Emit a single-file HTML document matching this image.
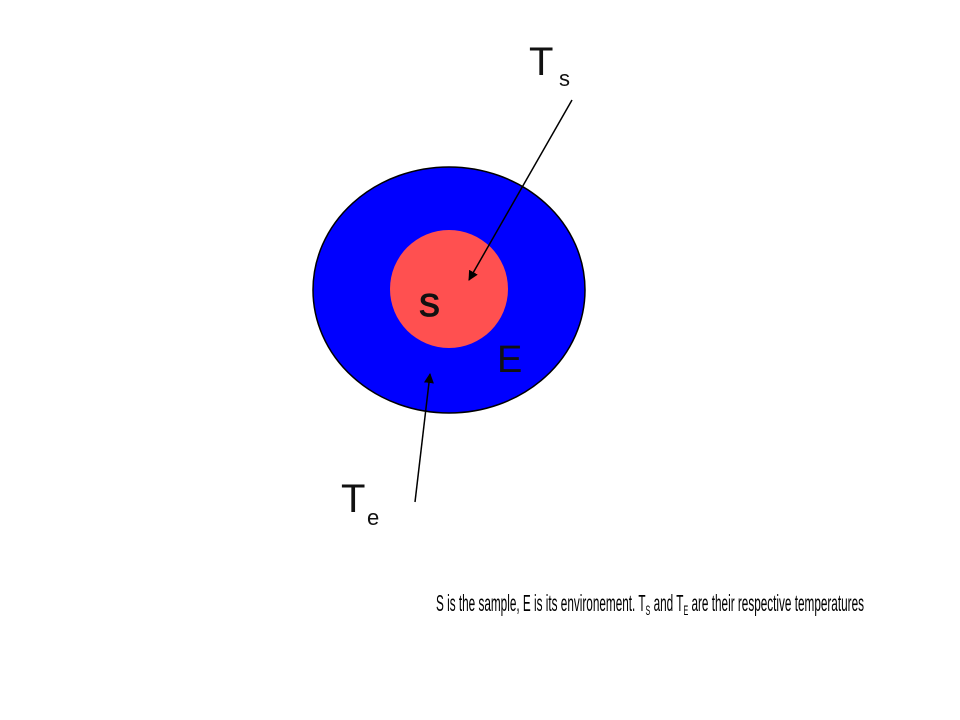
<!DOCTYPE html>
<html><head><style>
body{margin:0;background:#fff;}
</style></head><body>
<svg width="960" height="720" xmlns="http://www.w3.org/2000/svg" style="display:block">
<defs><marker id="a" markerWidth="10" markerHeight="12" refX="9" refY="6" orient="auto" markerUnits="userSpaceOnUse"><path d="M0,1 L10,6 L0,11 z" fill="#000"/></marker></defs>
<ellipse cx="449" cy="290" rx="136" ry="123" fill="#0000ff" stroke="#000" stroke-width="1.5"/>
<circle cx="449" cy="289" r="59" fill="#ff5050"/>
<text x="419" y="316" font-family="Liberation Sans, sans-serif" font-size="42" fill="#111" stroke="#111" stroke-width="0.8">s</text>
<text x="497" y="372" font-family="Liberation Sans, sans-serif" font-size="38" fill="#111">E</text>
<line x1="572" y1="100" x2="469" y2="280" stroke="#000" stroke-width="1.5" marker-end="url(#a)"/>
<line x1="415" y1="502" x2="430" y2="374" stroke="#000" stroke-width="1.5" marker-end="url(#a)"/>
<text x="529" y="75" font-family="Liberation Sans, sans-serif" font-size="40" fill="#111">T</text>
<text x="559" y="86" font-family="Liberation Sans, sans-serif" font-size="22" fill="#111">s</text>
<text x="341" y="512" font-family="Liberation Sans, sans-serif" font-size="40" fill="#111">T</text>
<text x="367" y="525" font-family="Liberation Sans, sans-serif" font-size="22" fill="#111">e</text>
<text x="436" y="611" font-family="Liberation Sans Narrow, Liberation Sans, sans-serif" font-size="23" fill="#000" textLength="428" lengthAdjust="spacingAndGlyphs">S is the sample, E is its environement. T<tspan font-size="14" dy="4">S</tspan><tspan dy="-4"> and T</tspan><tspan font-size="14" dy="4">E</tspan><tspan dy="-4"> are their respective temperatures</tspan></text>
</svg>
</body></html>
